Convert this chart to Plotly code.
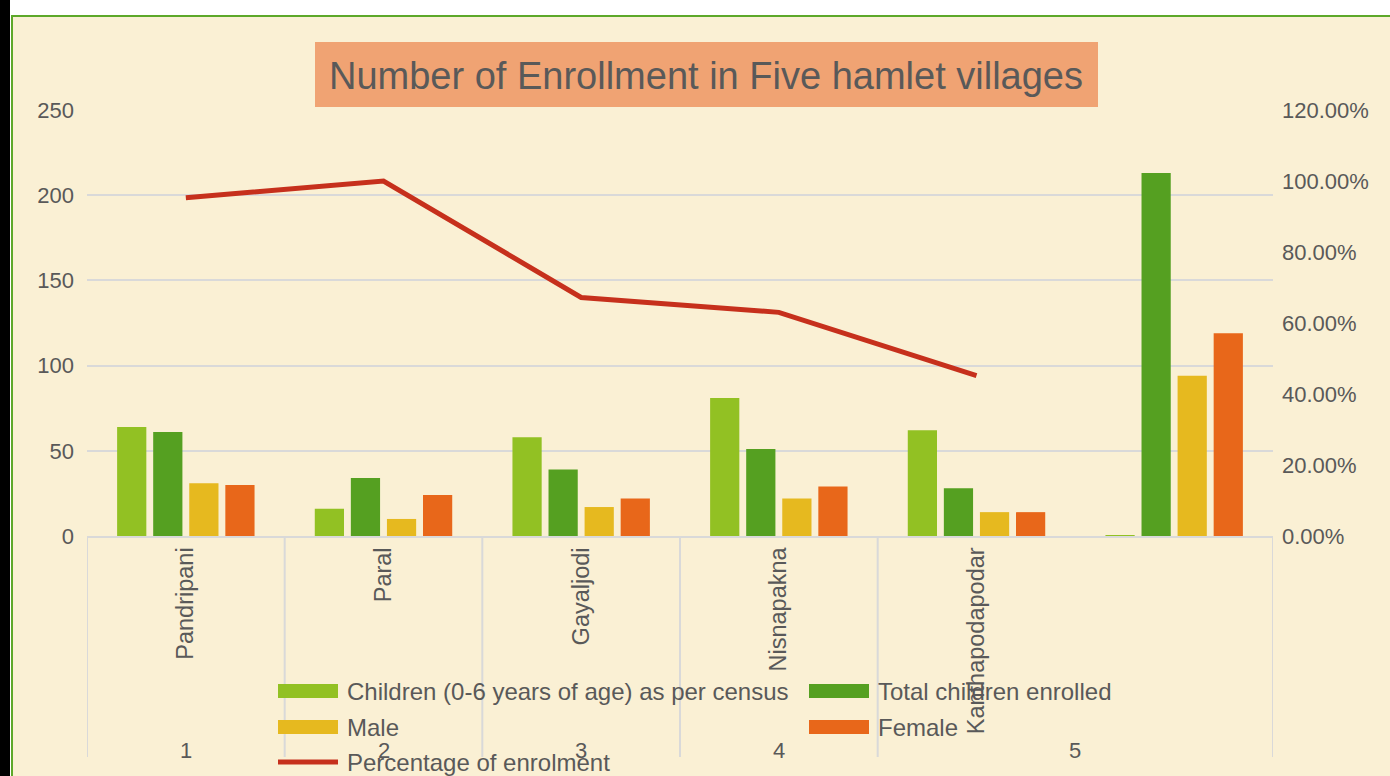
import plotly.graph_objects as go

# ---------------- data ----------------
villages = ["Pandripani", "Paral", "Gayaljodi", "Nisnapakna", "Kanthapodapodar", "Total"]
village_labels = ["Pandripani", "Paral", "Gayaljodi", "Nisnapakna", "Kanthapodapodar", ""]
outer_labels = ["1", "2", "3", "4", "5"]
outer_positions = [0, 1, 2, 3, 4.5]
divider_positions = [-0.5, 0.5, 1.5, 2.5, 3.5, 5.5]

children_census = [64, 16, 58, 81, 62, 0.5]
total_enrolled = [61, 34, 39, 51, 28, 213]
male = [31, 10, 17, 22, 14, 94]
female = [30, 24, 22, 29, 14, 119]
pct_enrolment = [0.953, 1.0, 0.672, 0.630, 0.452, None]

series_names = ["Children (0-6 years of age) as per census", "Total children enrolled",
                "Male", "Female", "Percentage of enrolment"]
colors = ["#92C123", "#55A021", "#E6B91F", "#E8671A", "#C6301C"]

title_text = "Number of Enrollment in Five hamlet villages"

# ---------------- layout helpers ----------------
W, H = 1390, 776
PL, PR, PT, PB = 87, 1273, 110, 536
FONT = "Liberation Sans"
TXT = "#595959"
BG = "#FAF0D4"
GRID = "#D9D9D9"


def fx(px):
    return (px - PL) / (PR - PL)


def fy(py):
    return (PB - py) / (PB - PT)


fig = go.Figure()
for vals, name, col in zip([children_census, total_enrolled, male, female], series_names[:4], colors[:4]):
    fig.add_trace(go.Bar(x=villages, y=vals, name=name, marker_color=col,
                         marker_line_width=0, showlegend=False))

fig.add_trace(go.Scatter(x=villages, y=pct_enrolment, name=series_names[4], yaxis="y2",
                         mode="lines", line=dict(color=colors[4], width=5),
                         showlegend=False))

shapes = []
annotations = []

# frame decorations
shapes.append(dict(type="rect", xref="paper", yref="paper", x0=fx(-5), x1=fx(W + 5),
                   y0=fy(15), y1=fy(-5), fillcolor="white", line_width=0, layer="below"))
shapes.append(dict(type="rect", xref="paper", yref="paper", x0=fx(-5), x1=fx(10),
                   y0=fy(H + 5), y1=fy(-5), fillcolor="black", line_width=0, layer="below"))
shapes.append(dict(type="rect", xref="paper", yref="paper", x0=fx(10), x1=fx(11),
                   y0=fy(H + 5), y1=fy(15), fillcolor="white", line_width=0, layer="below"))
shapes.append(dict(type="line", xref="paper", yref="paper", x0=fx(12), x1=fx(12),
                   y0=fy(H + 5), y1=fy(15), line=dict(color="#5DA82A", width=2), layer="below"))
shapes.append(dict(type="line", xref="paper", yref="paper", x0=fx(11), x1=fx(W + 5),
                   y0=fy(16), y1=fy(16), line=dict(color="#5DA82A", width=2), layer="below"))

# title box
shapes.append(dict(type="rect", xref="paper", yref="paper", x0=fx(315), x1=fx(1098),
                   y0=fy(107), y1=fy(42), fillcolor="#F0A373", line_width=0, layer="above"))
annotations.append(dict(text=title_text, xref="paper", yref="paper", x=fx(706), y=fy(76),
                        xanchor="center", yanchor="middle", showarrow=False,
                        font=dict(family=FONT, size=38, color=TXT)))

# category dividers
for xp in divider_positions:
    shapes.append(dict(type="line", xref="x", yref="paper", x0=xp, x1=xp,
                       y0=0, y1=fy(757), line=dict(color=GRID, width=2), layer="below"))

# outer category labels
for lab, xp in zip(outer_labels, outer_positions):
    annotations.append(dict(text=lab, xref="x", yref="paper", x=xp, y=fy(751),
                            xanchor="center", yanchor="middle", showarrow=False,
                            font=dict(family=FONT, size=22, color=TXT)))

# manual legend
legend_items = [
    (0, 278, 691, 345), (1, 809, 691, 876),
    (2, 278, 727, 345), (3, 809, 727, 876),
    (4, 278, 762, 345),
]
for idx, sx, sy, tx in legend_items:
    if idx < 4:
        shapes.append(dict(type="rect", xref="paper", yref="paper", x0=fx(sx), x1=fx(sx + 60),
                           y0=fy(sy + 7), y1=fy(sy - 7), fillcolor=colors[idx],
                           line_width=0, layer="above"))
    else:
        shapes.append(dict(type="line", xref="paper", yref="paper", x0=fx(sx), x1=fx(sx + 60),
                           y0=fy(sy), y1=fy(sy), line=dict(color=colors[idx], width=5),
                           layer="above"))
    annotations.append(dict(text=series_names[idx], xref="paper", yref="paper", x=fx(tx),
                            y=fy(sy), xanchor="left", yanchor="middle", showarrow=False,
                            font=dict(family=FONT, size=24, color=TXT)))

fig.update_layout(
    width=W, height=H,
    margin=dict(l=PL, r=W - PR, t=PT, b=H - PB, pad=0),
    paper_bgcolor=BG, plot_bgcolor=BG,
    barmode="group", bargap=0.27, bargroupgap=0.19,
    font=dict(family=FONT, size=22, color=TXT),
    showlegend=False,
    xaxis=dict(type="category", tickmode="array", tickvals=villages, ticktext=village_labels,
               tickangle=-90, showline=True, linecolor=GRID, linewidth=2, showgrid=False,
               ticks="", tickfont=dict(family=FONT, size=23.5, color=TXT),
               range=[-0.5, 5.5], fixedrange=True),
    yaxis=dict(range=[0, 250], dtick=50, showgrid=True, gridcolor=GRID, gridwidth=2,
               zeroline=False, showline=False, ticks="", ticklabelstandoff=12,
               tickfont=dict(family=FONT, size=22, color=TXT)),
    yaxis2=dict(range=[0, 1.2], dtick=0.2, tickformat=".2%", overlaying="y", side="right",
                showgrid=False, zeroline=False, showline=False, ticks="",
                ticklabelstandoff=8, tickfont=dict(family=FONT, size=22, color=TXT)),
    shapes=shapes, annotations=annotations,
)

fig.write_html("out.html", config={"displayModeBar": False},
               post_script="document.body.style.margin='0px';document.body.style.padding='0px';")
